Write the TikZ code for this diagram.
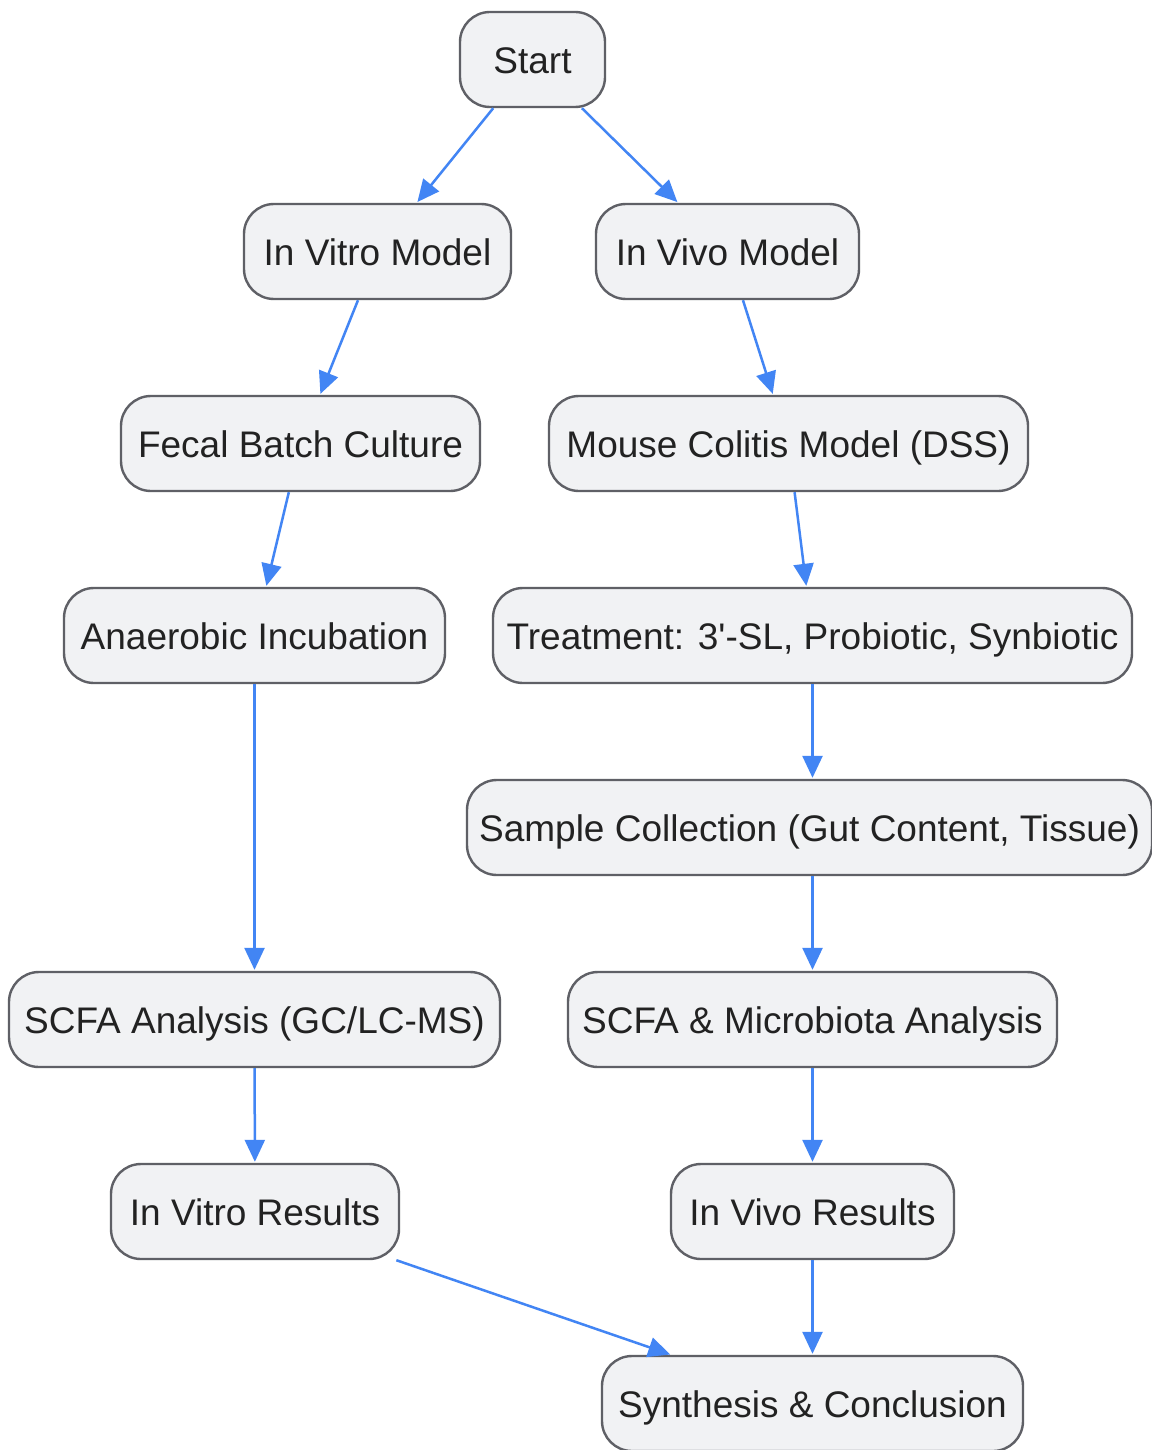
\documentclass[tikz,border=0pt]{standalone}
\usepackage{fontspec}
\newfontfamily\lsans{Liberation Sans}
\usetikzlibrary{arrows.meta}
\definecolor{boxfill}{HTML}{F1F2F4}
\definecolor{boxline}{HTML}{5F6066}
\definecolor{txt}{HTML}{222222}
\definecolor{arr}{HTML}{4285F4}
\tikzset{
  box/.style={draw=boxline, fill=boxfill, line width=2.4pt, rounded corners=30pt,
    minimum height=95pt, inner xsep=0pt, text=txt,
    font=\lsans\fontsize{37}{44}\selectfont, text height=31pt, text depth=3pt},
  link/.style={draw=arr, line width=2.5pt, -{Triangle[length=22pt,width=20pt]}, shorten >=1pt}
}
\begin{document}
\begin{tikzpicture}[x=1pt,y=-1pt]
\useasboundingbox[fill=white] (0,0) rectangle (1151,1450);
\node[box, minimum width=145pt] (start) at (532.5,59.5) {Start};
\node[box, minimum width=267pt] (vitro) at (377.5,251.5) {In Vitro Model};
\node[box, minimum width=263pt] (vivo) at (727.5,251.5) {In Vivo Model};
\node[box, minimum width=359pt] (fecal) at (300.5,443.5) {Fecal Batch Culture};
\node[box, minimum width=479pt] (mouse) at (788.5,443.5) {Mouse Colitis Model (DSS)};
\node[box, minimum width=381pt] (anaer) at (254.5,635.5) {Anaerobic Incubation};
\node[box, minimum width=639pt] (treat) at (812.5,635.5) {Treatment: 3'-SL, Probiotic, Synbiotic};
\node[box, minimum width=685pt] (sample) at (809.5,827.5) {Sample Collection (Gut Content, Tissue)};
\node[box, minimum width=491pt] (scfa) at (254.5,1019.5) {SCFA Analysis (GC/LC-MS)};
\node[box, minimum width=489pt] (micro) at (812.5,1019.5) {SCFA \& Microbiota Analysis};
\node[box, minimum width=288pt] (vitrores) at (255,1211.5) {In Vitro Results};
\node[box, minimum width=283pt] (vivores) at (812.5,1211.5) {In Vivo Results};
\node[box, minimum width=421pt] (synth) at (812.5,1403.5) {Synthesis \& Conclusion};
\draw[link] (start) -- (vitro);
\draw[link] (start) -- (vivo);
\draw[link] (vitro) -- (fecal);
\draw[link] (vivo) -- (mouse);
\draw[link] (fecal) -- (anaer);
\draw[link] (mouse) -- (treat);
\draw[link] (anaer) -- (scfa);
\draw[link] (treat.south -| 812.5,0) -- (sample.north -| 812.5,0);
\draw[link] (sample.south -| 812.5,0) -- (micro.north);
\draw[link] (scfa) -- (vitrores);
\draw[link] (micro) -- (vivores);
\draw[link] (vitrores) -- (synth);
\draw[link] (vivores) -- (synth);
\end{tikzpicture}
\end{document}
